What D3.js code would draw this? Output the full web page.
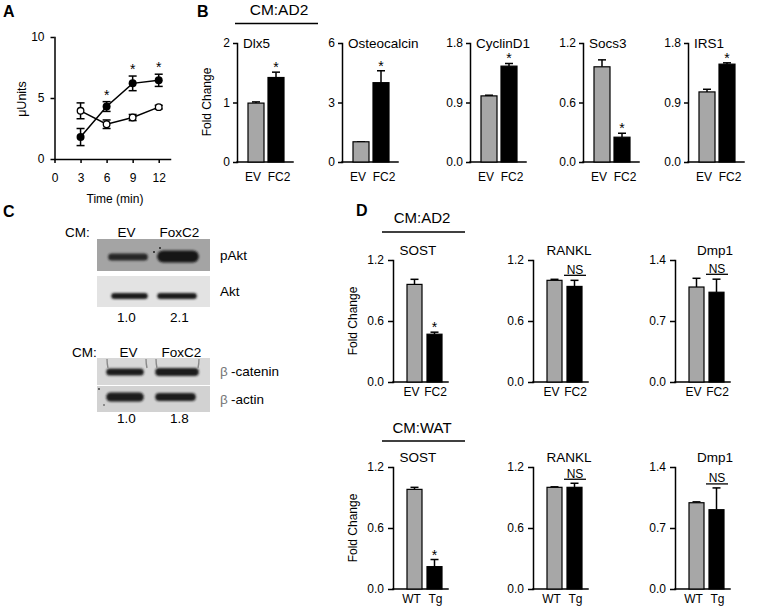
<!DOCTYPE html>
<html><head><meta charset="utf-8">
<script src="https://cdn.jsdelivr.net/npm/d3@7"></script>
<style>
body{margin:0;background:#fff}
svg{display:block}
text{font-family:"Liberation Sans",Arial,Helvetica,sans-serif;fill:#000}
</style>
</head><body><svg id="fig" width="758" height="606"></svg>
<script>
// ---------- Panel A data ----------
const timeMin = [3, 6, 9, 12];
const aFC2Mean = [1.8, 4.3, 6.2, 6.45];
const aFC2Err = [0.7, 0.4, 0.6, 0.5];
const aEVMean = [3.95, 2.85, 3.4, 4.25];
const aEVErr = [0.65, 0.35, 0.25, 0.15];
const aSig = [false, true, true, true];
const aYTicks = [0, 5, 10];
const aXTicks = [0, 3, 6, 9, 12];

// ---------- Panel B data ----------
const bGenes = ["Dlx5", "Osteocalcin", "CyclinD1", "Socs3", "IRS1"];
const bGroups = ["EV", "FC2"];
const bYMax = [2, 6, 1.8, 1.2, 1.8];
const bYTicks = [[0, 1, 2], [0, 3, 6], [0, 0.9, 1.8], [0, 0.6, 1.2], [0, 0.9, 1.8]];
const bTickDecimals = [0, 0, 1, 1, 1];
const bEV = [0.99, 1.02, 1.0, 0.96, 1.06];
const bEVErr = [0.02, 0.0, 0.01, 0.07, 0.04];
const bFC2 = [1.42, 4.0, 1.45, 0.25, 1.48];
const bFC2Err = [0.09, 0.6, 0.04, 0.04, 0.02];
const bSig = ["*", "*", "*", "*", "*"];

// ---------- Panel C data ----------
const cLanes = ["EV", "FoxC2"];
const cAktRatio = ["1.0", "2.1"];
const cCateninRatio = ["1.0", "1.8"];

// ---------- Panel D data ----------
const dGenes = ["SOST", "RANKL", "Dmp1"];
const dYMax = [1.2, 1.2, 1.4];
const dYTicks = [[0, 0.6, 1.2], [0, 0.6, 1.2], [0, 0.7, 1.4]];
const dAD2Groups = ["EV", "FC2"];
const dAD2Ctrl = [0.96, 1.0, 1.09];
const dAD2CtrlErr = [0.05, 0.01, 0.10];
const dAD2Trt = [0.47, 0.94, 1.03];
const dAD2TrtErr = [0.02, 0.06, 0.15];
const dAD2Sig = ["*", "NS", "NS"];
const dWATGroups = ["WT", "Tg"];
const dWATCtrl = [0.98, 1.0, 0.99];
const dWATCtrlErr = [0.02, 0.005, 0.01];
const dWATTrt = [0.22, 1.0, 0.91];
const dWATTrtErr = [0.07, 0.04, 0.25];
const dWATSig = ["*", "NS", "NS"];

// ---------- drawing ----------
const svg = d3.select("#fig");
const GRAY = "#a7a7a7";
const LW = 1.5;

function styleAxis(ax, fs) {
  ax.attr("font-family", null).attr("font-size", fs);
  ax.select(".domain").attr("stroke", "#000").attr("stroke-width", LW).attr("stroke-linecap", "square");
  ax.selectAll(".tick line").attr("stroke", "#000").attr("stroke-width", LW);
  ax.selectAll(".tick text").attr("fill", "#000");
}

function label(x, y, txt, fs, anchor, extra) {
  const t = svg.append("text").attr("x", x).attr("y", y).attr("font-size", fs)
    .attr("text-anchor", anchor || "start").text(txt);
  if (extra) extra(t);
  return t;
}

// ===== Panel A =====
(function () {
  const x = d3.scaleLinear().domain([0, 13.3]).range([54.5, 170]);
  const y = d3.scaleLinear().domain([0, 10]).range([159, 37]);
  const axY = svg.append("g").attr("transform", "translate(54.5,0)")
    .call(d3.axisLeft(y).tickValues(aYTicks).tickSize(4).tickSizeOuter(0).tickPadding(6));
  styleAxis(axY, 12);
  const axX = svg.append("g").attr("transform", "translate(0,159)")
    .call(d3.axisBottom(x).tickValues(aXTicks).tickSize(4).tickSizeOuter(0).tickPadding(10));
  styleAxis(axX, 12);

  const ev = timeMin.map((t, i) => ({ t, m: aEVMean[i], e: aEVErr[i] }));
  const fc = timeMin.map((t, i) => ({ t, m: aFC2Mean[i], e: aFC2Err[i] }));
  const line = d3.line().x(d => x(d.t)).y(d => y(d.m));
  [ev, fc].forEach(s => {
    svg.append("path").datum(s).attr("d", line).attr("fill", "none").attr("stroke", "#000").attr("stroke-width", LW);
    s.forEach(d => {
      const cx = x(d.t);
      svg.append("line").attr("x1", cx).attr("x2", cx).attr("y1", y(d.m - d.e)).attr("y2", y(d.m + d.e))
        .attr("stroke", "#000").attr("stroke-width", LW);
      [d.m - d.e, d.m + d.e].forEach(v => svg.append("line").attr("x1", cx - 4).attr("x2", cx + 4)
        .attr("y1", y(v)).attr("y2", y(v)).attr("stroke", "#000").attr("stroke-width", LW));
    });
  });
  svg.selectAll(".evpt").data(ev).join("circle").attr("cx", d => x(d.t)).attr("cy", d => y(d.m))
    .attr("r", 3.3).attr("fill", "#fff").attr("stroke", "#000").attr("stroke-width", 1.3);
  svg.selectAll(".fcpt").data(fc).join("circle").attr("cx", d => x(d.t)).attr("cy", d => y(d.m))
    .attr("r", 4).attr("fill", "#000");
  fc.forEach((d, i) => {
    if (aSig[i]) label(x(d.t), y(d.m + d.e) - 2, "*", 14, "middle");
  });
  label(22, 99, "\u03bcUnits", 12.5, "middle", t => t.attr("transform", "rotate(-90,22,99)").attr("dy", "0.35em"));
  label(115, 203, "Time (min)", 12, "middle");
  label(3, 17, "A", 16, "start", t => t.attr("font-weight", "bold"));
})();

// ===== Generic bar subplot =====
function barPlot(o) {
  const y = d3.scaleLinear().domain([0, o.max]).range([o.yBot, o.yTop]);
  const x = d3.scaleBand().domain(o.groups)
    .range([o.x0 + o.bandStart, o.x0 + o.bandStart + o.bandLen]).paddingInner(o.padInner).paddingOuter(0);
  const ax = svg.append("g").attr("transform", `translate(${o.x0},0)`)
    .call(d3.axisLeft(y).tickValues(o.ticks).tickSize(o.tickSize).tickSizeOuter(0)
      .tickPadding(o.tickPad).tickFormat(d3.format(`.${o.dec}f`)));
  styleAxis(ax, o.fs);
  svg.append("line").attr("x1", o.x0).attr("x2", o.x0 + o.xLen).attr("y1", y(0)).attr("y2", y(0))
    .attr("stroke", "#000").attr("stroke-width", LW).attr("stroke-linecap", "square");
  const data = o.groups.map((g, i) => ({ g, v: o.vals[i], e: o.errs[i], fill: i === 0 ? GRAY : "#000" }));
  const bw = x.bandwidth();
  data.forEach(d => {
    const cx = x(d.g) + bw / 2;
    svg.append("line").attr("x1", cx).attr("x2", cx).attr("y1", y(d.v)).attr("y2", y(d.v + d.e))
      .attr("stroke", "#000").attr("stroke-width", LW);
    svg.append("line").attr("x1", cx - 4).attr("x2", cx + 4).attr("y1", y(d.v + d.e)).attr("y2", y(d.v + d.e))
      .attr("stroke", "#000").attr("stroke-width", LW);
  });
  svg.append("g").selectAll("rect").data(data).join("rect")
    .attr("x", d => x(d.g)).attr("width", bw).attr("y", d => y(d.v)).attr("height", d => y(0) - y(d.v))
    .attr("fill", d => d.fill).attr("stroke", "#000").attr("stroke-width", 1.2);
  data.forEach((d, i) => {
    label(x(d.g) + bw / 2 + o.labOff[i], y(0) + o.xLabGap, d.g, o.xfs, "middle");
  });
  if (o.titleMode === "left") label(o.x0 + 6, o.yTop + 5, o.title, o.tfs, "start");
  else label(o.x0 + o.titleOff, o.yTop - 5, o.title, o.tfs, "middle");
  if (o.sig === "*") {
    const d = data[1];
    label(x(d.g) + bw / 2, y(d.v + d.e) - o.starGap + 8, "*", 14, "middle");
  } else if (o.sig === "NS") {
    const top = d3.min(data, d => y(d.v + d.e));
    const ly = top - 4, cx = o.x0 + 42;
    svg.append("line").attr("x1", cx - 11).attr("x2", cx + 11).attr("y1", ly).attr("y2", ly)
      .attr("stroke", "#000").attr("stroke-width", 1.3);
    label(cx, ly - 1.5, "NS", 12, "middle");
  }
}

// ===== Panel B =====
const bAxisX = [237, 342, 470, 583, 688];
bGenes.forEach((gname, i) => {
  barPlot({
    x0: bAxisX[i], yTop: 43, yBot: 162, max: bYMax[i], ticks: bYTicks[i], dec: bTickDecimals[i],
    groups: bGroups, vals: [bEV[i], bFC2[i]], errs: [bEVErr[i], bFC2Err[i]],
    bandStart: 11, bandLen: 36, padInner: 0.2, xLen: 56, tickSize: 4, tickPad: 3, fs: 12,
    xLabGap: 19, xfs: 12, labOff: [-3, 3], title: gname, titleMode: "left", tfs: 13.5, sig: bSig[i], starGap: 8
  });
});
label(207, 102, "Fold Change", 12, "middle", t => t.attr("transform", "rotate(-90,207,102)").attr("dy", "0.35em"));
label(197, 17, "B", 16, "start", t => t.attr("font-weight", "bold"));
label(279, 15, "CM:AD2", 15.5, "middle");
svg.append("line").attr("x1", 235).attr("x2", 318).attr("y1", 23.5).attr("y2", 23.5).attr("stroke", "#000").attr("stroke-width", 1.4);

// ===== Panel D =====
const dAxisX = [393, 533, 675];
const dTitleOff = [25, 36, 40];
const dRows = [
  { yTop: 260, yBot: 382, groups: dAD2Groups, ctrl: dAD2Ctrl, ce: dAD2CtrlErr, trt: dAD2Trt, te: dAD2TrtErr, sig: dAD2Sig, head: "CM:AD2", headY: 223, lineY: 232 },
  { yTop: 467, yBot: 589, groups: dWATGroups, ctrl: dWATCtrl, ce: dWATCtrlErr, trt: dWATTrt, te: dWATTrtErr, sig: dWATSig, head: "CM:WAT", headY: 433, lineY: 441 }
];
dRows.forEach(r => {
  dGenes.forEach((gname, i) => {
    barPlot({
      x0: dAxisX[i], yTop: r.yTop, yBot: r.yBot, max: dYMax[i], ticks: dYTicks[i], dec: 1,
      groups: r.groups, vals: [r.ctrl[i], r.trt[i]], errs: [r.ce[i], r.te[i]],
      bandStart: 14, bandLen: 35, padInner: 0.25, xLen: 55, tickSize: 5, tickPad: 4, fs: 12,
      xLabGap: 14, xfs: 12, labOff: [-3, 1], title: gname, titleMode: "center", titleOff: dTitleOff[i], tfs: 13.5,
      sig: r.sig[i], starGap: 8
    });
  });
  label(422, r.headY, r.head, 15, "middle");
  svg.append("line").attr("x1", 382).attr("x2", 465).attr("y1", r.lineY).attr("y2", r.lineY).attr("stroke", "#000").attr("stroke-width", 1.4);
  const fy = (r.yTop + r.yBot) / 2;
  label(353, fy, "Fold Change", 12, "middle", t => t.attr("transform", `rotate(-90,353,${fy})`).attr("dy", "0.35em"));
});
label(356, 216, "D", 16, "start", t => t.attr("font-weight", "bold"));

// ===== Panel C (western blots) =====
(function () {
  const defs = svg.append("defs");
  defs.append("filter").attr("id", "blur").attr("x", "-20%").attr("y", "-100%").attr("width", "140%").attr("height", "300%")
    .append("feGaussianBlur").attr("stdDeviation", 1.3);
  defs.append("filter").attr("id", "blurS").append("feGaussianBlur").attr("stdDeviation", 0.5);
  const lane = d3.scaleBand().domain(cLanes).range([100, 206]).paddingInner(0.12).paddingOuter(0.06);
  const bw = lane.bandwidth();
  label(3, 217, "C", 16, "start", t => t.attr("font-weight", "bold"));

  function blot(yTop, h, bg, bands, name, nameFs, beta) {
    svg.append("rect").attr("x", 97).attr("y", yTop).attr("width", 113).attr("height", h).attr("fill", bg).attr("filter", "url(#blurS)");
    bands.forEach((b, i) => {
      const lx = lane(cLanes[i]);
      svg.append("rect").attr("x", lx + b.l).attr("width", bw - b.l - b.r)
        .attr("y", b.cy - b.h / 2).attr("height", b.h).attr("rx", b.h / 2)
        .attr("fill", b.c).attr("filter", "url(#blur)");
    });
    const cy = yTop + h / 2;
    if (beta) {
      label(220, cy, "\u03b2", nameFs, "start", t => t.attr("dy", "0.35em").style("fill", "#777"));
      label(231, cy, name, nameFs, "start", t => t.attr("dy", "0.35em"));
    } else {
      label(220, cy, name, nameFs, "start", t => t.attr("dy", "0.35em"));
    }
  }

  // block 1
  label(65, 237, "CM:", 13.5, "start");
  cLanes.forEach(l => label(lane(l) + bw / 2, 237, l, 13.5, "middle"));
  blot(239, 32, "#a4a4a4", [
    { l: 5, r: 2, cy: 257, h: 7, c: "#262626" },
    { l: 1, r: 4, cy: 256.5, h: 12, c: "#141414" }], "pAkt", 13.5);
  svg.append("circle").attr("cx", 154).attr("cy", 252).attr("r", 1).attr("fill", "#222");
  svg.append("circle").attr("cx", 160).attr("cy", 248).attr("r", 1).attr("fill", "#222");
  blot(276, 31, "#e3e3e3", [
    { l: 8, r: 2, cy: 296, h: 6, c: "#1e1e1e" },
    { l: 1, r: 6, cy: 296, h: 6, c: "#1e1e1e" }], "Akt", 13.5);
  cLanes.forEach((l, i) => label(lane(l) + bw / 2, 322, cAktRatio[i], 13.5, "middle"));

  // block 2
  label(72, 357, "CM:", 13.5, "start");
  cLanes.forEach(l => label(lane(l) + bw / 2 + 2, 357, l, 13.5, "middle"));
  blot(358, 27, "#d8d8d8", [
    { l: 3, r: 6, cy: 372, h: 7, c: "#1e1e1e" },
    { l: -1, r: 4, cy: 372, h: 8, c: "#1a1a1a" }], "-catenin", 13.5, true);
  [[107, 359, 108, 368], [146, 359, 147, 368], [156, 359, 157, 368], [199, 359, 198, 368]].forEach(p =>
    svg.append("path").attr("d", `M${p[0]},${p[1]} Q${p[0]},${(p[1] + p[3]) / 2} ${p[2]},${p[3]}`)
      .attr("stroke", "#8a8a8a").attr("stroke-width", 1.4).attr("fill", "none").attr("filter", "url(#blurS)"));
  blot(386, 26, "#d2d2d2", [
    { l: 3, r: 6, cy: 397, h: 9, c: "#1a1a1a" },
    { l: -1, r: 7, cy: 397, h: 8, c: "#1e1e1e" }], "-actin", 13.5, true);
  svg.append("circle").attr("cx", 99).attr("cy", 389).attr("r", 0.9).attr("fill", "#333");
  svg.append("circle").attr("cx", 104).attr("cy", 405).attr("r", 0.8).attr("fill", "#333");
  cLanes.forEach((l, i) => label(lane(l) + bw / 2, 423, cCateninRatio[i], 13.5, "middle"));
})();
</script>
</body></html>
